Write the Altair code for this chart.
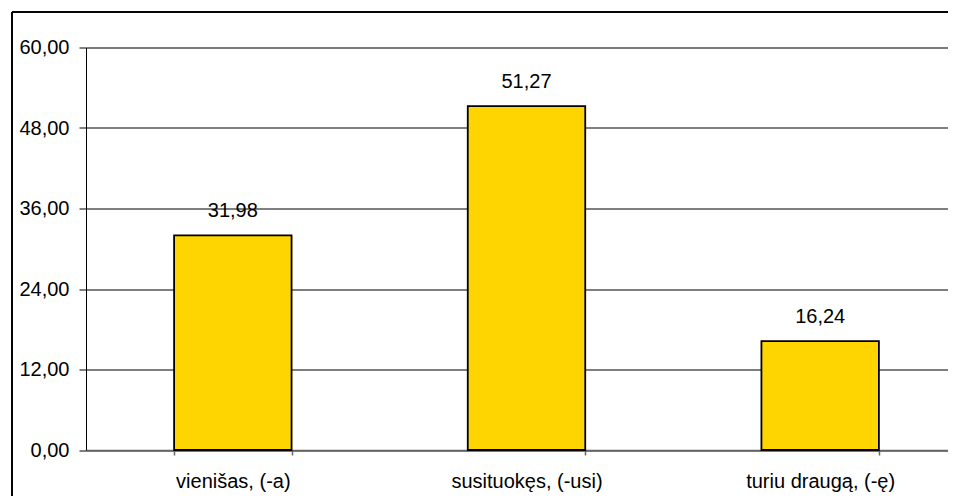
import altair as alt
import pandas as pd

categories = ["vienišas, (-a)", "susituokęs, (-usi)", "turiu draugą, (-ę)"]
values = [31.98, 51.27, 16.24]
labels = ["31,98", "51,27", "16,24"]

df = pd.DataFrame({"cat": categories, "val": values, "lab": labels})

W = 862
H = 402.5
FONT = "Liberation Sans"

x_enc = alt.X("cat:N", sort=categories, title=None,
              scale=alt.Scale(range=[0, 881], paddingInner=0.6, paddingOuter=0.3),
              axis=alt.Axis(labelAngle=0, labelFont=FONT, labelFontSize=20, labelColor="black",
                            labelPadding=16, tickSize=5, tickColor="#666", domainColor="#666",
                            tickBand="extent", domainWidth=1.5, tickWidth=1.5))
y_enc = alt.Y("val:Q", title=None,
              scale=alt.Scale(domain=[0, 60]),
              axis=alt.Axis(values=[0, 12, 24, 36, 48, 60],
                            labelExpr="replace(format(datum.value, '.2f'), '.', ',')",
                            labelFont=FONT, labelFontSize=20, labelColor="black",
                            labelPadding=10, tickSize=7, tickColor="black", domainColor="black",
                            grid=True, gridColor="#555", gridWidth=1.5))

bars = alt.Chart(df).mark_bar(color="#FFD500", stroke="black", strokeWidth=1.8).encode(
    x=x_enc, y=y_enc)

text = alt.Chart(df).mark_text(font=FONT, fontSize=20, baseline="alphabetic", dy=-18,
                               color="black").encode(
    x=alt.X("cat:N", sort=categories), y="val:Q", text="lab:N")

border_top = alt.Chart(df).mark_rule(color="black", strokeWidth=1.5).encode(
    x=alt.value(-74), x2=alt.value(W), y=alt.value(-35.5))
border_left = alt.Chart(df).mark_rule(color="black", strokeWidth=1.5).encode(
    x=alt.value(-74), y=alt.value(-35.5), y2=alt.value(H + 50))

chart = alt.layer(bars, text, border_top, border_left).properties(
    width=W, height=H,
    autosize=alt.AutoSizeParams(type="none"),
    padding={"left": 78, "top": 39.5, "right": 0, "bottom": 46},
).configure_view(stroke=None).configure(background="white")

chart.save("out.html", embed_options={"renderer": "svg", "actions": False})
